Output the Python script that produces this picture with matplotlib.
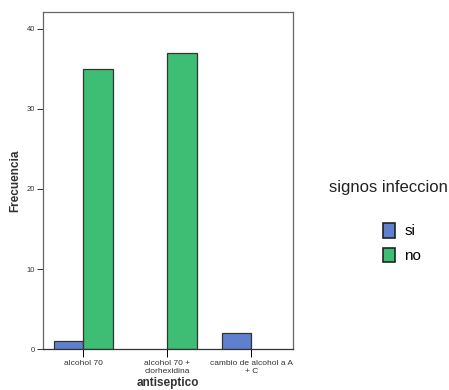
import numpy as np
import matplotlib
matplotlib.use("Agg")
import matplotlib.pyplot as plt
from matplotlib.patches import Patch

categories = ["alcohol 70", "alcohol 70 +\nclorhexidina", "cambio de alcohol a A\n+ C"]
si_values = [1, 0, 2]
no_values = [35, 37, 0]
series_names = ["si", "no"]
legend_title = "signos infeccion"

blue = "#5f80cf"
green = "#3dbe74"

plt.rcParams['font.family'] = ['Liberation Sans', 'DejaVu Sans']

fig = plt.figure(figsize=(4.49, 3.90), dpi=100)
ax = fig.add_axes([0.096, 0.105, 0.557, 0.864])

x = np.arange(len(categories))
w = 0.35
# skip zero-height bars (SPSS doesn't draw them)
for xi, v in zip(x, si_values):
    if v > 0:
        ax.bar(xi - w / 2, v, w, color=blue, edgecolor="#333333", linewidth=0.9)
for xi, v in zip(x, no_values):
    if v > 0:
        ax.bar(xi + w / 2, v, w, color=green, edgecolor="#333333", linewidth=0.9)

ax.set_xlim(-0.48, 2.5)
ax.set_ylim(0, 42.1)
ax.set_yticks([0, 10, 20, 30, 40])
ax.set_xticks(x)
ax.set_xticklabels(categories, fontsize=6, color="#333333", linespacing=1.1)
ax.tick_params(axis='y', labelsize=5.5, colors="#333333", length=4, width=0.7, pad=2)
ax.tick_params(axis='x', length=6, width=0.7, pad=2)

for s in ax.spines.values():
    s.set_color("#666666")
    s.set_linewidth(0.9)
ax.spines['bottom'].set_color("#333333")

ax.set_ylabel("Frecuencia", fontsize=8.5, fontweight="bold", color="#333333", labelpad=4)
ax.set_xlabel("antiseptico", fontsize=8.5, fontweight="bold", color="#333333", labelpad=1.5)

# legend title drawn separately so the gap to the items matches
fig.text(388 / 449, 1 - 187 / 390, legend_title, fontsize=12, color="#222222",
         ha="center", va="center")
handles = [Patch(facecolor=blue, edgecolor="#222222", linewidth=1.2),
           Patch(facecolor=green, edgecolor="#222222", linewidth=1.2)]
leg = fig.legend(handles, series_names, loc="center left",
                 bbox_to_anchor=(369 / 449, 1 - 243 / 390), frameon=False,
                 fontsize=11, handlelength=0.8, handleheight=1.1,
                 handletextpad=0.6, labelspacing=0.6)

fig.savefig("out.png", dpi=100)
